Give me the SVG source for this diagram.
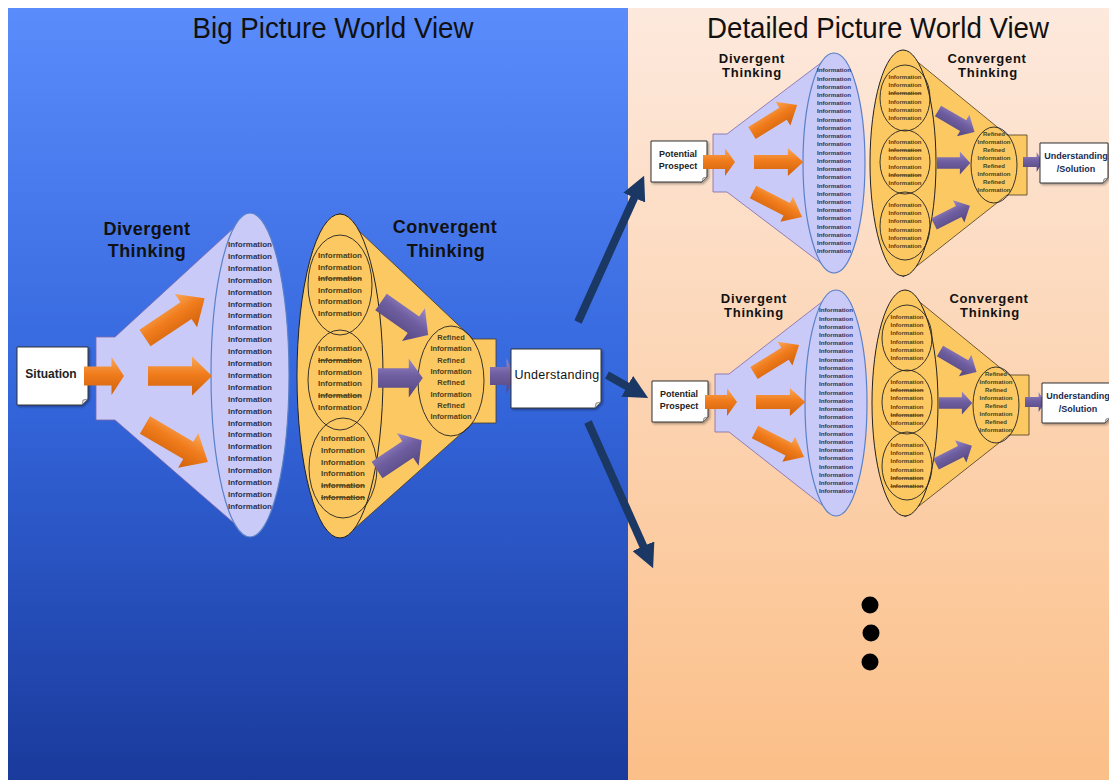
<svg xmlns="http://www.w3.org/2000/svg" xmlns:xlink="http://www.w3.org/1999/xlink" width="1109" height="780" viewBox="0 0 1109 780">
<style>
text{font-family:'Liberation Sans',Arial,sans-serif;text-anchor:middle}
.title{font-size:29px;fill:#111}
.lblB{font-size:18px;font-weight:bold;fill:#111;letter-spacing:0.45px}
.lblS{font-size:13px;font-weight:bold;fill:#111;letter-spacing:0.7px}
.inD{font-weight:bold;fill:#2b3152}
.inC{font-weight:bold;fill:#4a3f1a}
.st{text-decoration:line-through}
.paper{fill:#fff;stroke:#333;stroke-width:1}
.fold{fill:#ddd;stroke:#555;stroke-width:0.6}
.dfun{fill:#c9caf7;stroke:#7f68aa;stroke-width:0.8}
.dell{fill:#c9caf7;stroke:#5a80c8;stroke-width:1.2}
.cfun{fill:#fcc862;stroke:#4a3a20;stroke-width:0.8}
.cell{fill:#fcc862;stroke:#222;stroke-width:1}
.iell{fill:none;stroke:#222;stroke-width:0.9}
.conn{stroke:#1b3864;stroke-width:8;fill:none;marker-end:url(#nav)}
</style>
<defs>
<linearGradient id="bgL" x1="0" y1="0" x2="0" y2="1"><stop offset="0" stop-color="#5a8cfc"/><stop offset="0.5" stop-color="#3466dc"/><stop offset="1" stop-color="#1a3a9c"/></linearGradient>
<linearGradient id="bgR" x1="0" y1="0" x2="0" y2="1"><stop offset="0" stop-color="#fde9dd"/><stop offset="1" stop-color="#fbbf88"/></linearGradient>
<linearGradient id="og" x1="0" y1="0" x2="0" y2="1"><stop offset="0" stop-color="#f9a85a"/><stop offset="0.45" stop-color="#f07c1c"/><stop offset="1" stop-color="#d0600a"/></linearGradient>
<linearGradient id="pg" x1="0" y1="0" x2="0" y2="1"><stop offset="0" stop-color="#9a8ac8"/><stop offset="0.45" stop-color="#6e5ea0"/><stop offset="1" stop-color="#54467e"/></linearGradient>
<path id="ba" d="M0,-10 H44 V-20 L64,0 L44,20 V10 H0 Z"/>
<marker id="nav" viewBox="0 0 10 10" refX="2" refY="5" markerWidth="3" markerHeight="3" orient="auto" markerUnits="strokeWidth"><path d="M0,0 L10,5 L0,10 Z" fill="#1b3864"/></marker>
<filter id="sh" x="-10%" y="-10%" width="130%" height="130%"><feDropShadow dx="1.5" dy="1.5" stdDeviation="1" flood-opacity="0.35"/></filter>
</defs>

<g id="background">
<rect x="0" y="0" width="1109" height="780" fill="#fff"/>
<rect x="8" y="8" width="620" height="772" fill="url(#bgL)"/>
<rect x="628" y="8" width="481" height="772" fill="url(#bgR)"/>
</g>

<g id="title-big"><text class="title" x="333" y="38" textLength="281" lengthAdjust="spacingAndGlyphs">Big Picture World View</text></g>
<g id="title-detailed"><text class="title" x="878" y="38" textLength="342" lengthAdjust="spacingAndGlyphs">Detailed Picture World View</text></g>

<!-- Big picture -->
<g id="divergent-big">
<polygon class="dfun" points="96,337 115,337 250,213 250,537 115,420 96,420"/>
<ellipse class="dell" cx="250" cy="375" rx="39" ry="162"/>
<text class="inD" x="250" y="247" font-size="8"><tspan x="250">Information</tspan><tspan x="250" dy="11.9">Information</tspan><tspan x="250" dy="11.9">Information</tspan><tspan x="250" dy="11.9">Information</tspan><tspan x="250" dy="11.9">Information</tspan><tspan x="250" dy="11.9">Information</tspan><tspan x="250" dy="11.9">Information</tspan><tspan x="250" dy="11.9">Information</tspan><tspan x="250" dy="11.9">Information</tspan><tspan x="250" dy="11.9">Information</tspan><tspan x="250" dy="11.9">Information</tspan><tspan x="250" dy="11.9">Information</tspan><tspan x="250" dy="11.9">Information</tspan><tspan x="250" dy="11.9">Information</tspan><tspan x="250" dy="11.9">Information</tspan><tspan x="250" dy="11.9">Information</tspan><tspan x="250" dy="11.9">Information</tspan><tspan x="250" dy="11.9">Information</tspan><tspan x="250" dy="11.9">Information</tspan><tspan x="250" dy="11.9">Information</tspan><tspan x="250" dy="11.9">Information</tspan><tspan x="250" dy="11.9">Information</tspan><tspan x="250" dy="11.9">Information</tspan></text>
<use href="#ba" fill="url(#og)" transform="translate(148,376) scale(1,0.97)"/>
<use href="#ba" fill="url(#og)" transform="translate(145,338) rotate(-33.7) scale(1.12,1)"/>
<use href="#ba" fill="url(#og)" transform="translate(145,425) rotate(30.4) scale(1.14,1)"/>
<text class="lblB" x="147" y="235">Divergent</text>
<text class="lblB" x="147" y="257">Thinking</text>
</g>

<g id="convergent-big">
<polygon class="cfun" points="340,213 473,339 496,339 496,423 473,423 345,537"/>
<ellipse class="cell" cx="340" cy="376" rx="43" ry="162"/>
<ellipse class="iell" cx="340" cy="285" rx="32" ry="50"/>
<ellipse class="iell" cx="340" cy="380" rx="32" ry="50"/>
<ellipse class="iell" cx="343" cy="468" rx="34" ry="50"/>
<ellipse class="iell" cx="451" cy="381" rx="33" ry="55"/>
<text class="inC" x="340" y="258" font-size="8"><tspan x="340">Information</tspan><tspan x="340" dy="11.6">Information</tspan><tspan x="340" dy="11.6" class="st">Information</tspan><tspan x="340" dy="11.6">Information</tspan><tspan x="340" dy="11.6">Information</tspan><tspan x="340" dy="11.6">Information</tspan></text>
<text class="inC" x="340" y="351" font-size="8"><tspan x="340">Information</tspan><tspan x="340" dy="11.8" class="st">Information</tspan><tspan x="340" dy="11.8">Information</tspan><tspan x="340" dy="11.8">Information</tspan><tspan x="340" dy="11.8" class="st">Information</tspan><tspan x="340" dy="11.8">Information</tspan></text>
<text class="inC" x="343" y="441" font-size="8"><tspan x="343">Information</tspan><tspan x="343" dy="11.8">Information</tspan><tspan x="343" dy="11.8">Information</tspan><tspan x="343" dy="11.8">Information</tspan><tspan x="343" dy="11.8" class="st">Information</tspan><tspan x="343" dy="11.8" class="st">Information</tspan></text>
<text class="inC" x="451" y="340" font-size="7.5"><tspan x="451">Refined</tspan><tspan x="451" dy="11.3">Information</tspan><tspan x="451" dy="11.3">Refined</tspan><tspan x="451" dy="11.3">Information</tspan><tspan x="451" dy="11.3">Refined</tspan><tspan x="451" dy="11.3">Information</tspan><tspan x="451" dy="11.3">Refined</tspan><tspan x="451" dy="11.3">Information</tspan></text>
<use href="#ba" fill="url(#pg)" transform="translate(381,302) rotate(35) scale(0.9,1)"/>
<use href="#ba" fill="url(#pg)" transform="translate(378,378) scale(0.7,0.98)"/>
<use href="#ba" fill="url(#pg)" transform="translate(377,470) rotate(-33.7) scale(0.84,0.98)"/>
<use href="#ba" fill="url(#pg)" transform="translate(490,376) scale(0.375,0.9)"/>
<text class="lblB" x="445" y="233">Convergent</text>
<text class="lblB" x="446" y="257">Thinking</text>
</g>

<g id="situation">
<path class="paper" filter="url(#sh)" d="M17,347 H88 V399 L82,405 H17 Z"/>
<path class="fold" d="M82,405 L83,400 L88,399 Z"/>
<text x="51" y="378" font-size="12" font-weight="bold" fill="#222">Situation</text>
<use href="#ba" fill="url(#og)" transform="translate(84,376) scale(0.625,0.95)"/>
</g>

<g id="understanding">
<path class="paper" filter="url(#sh)" d="M511,349 H601 V402 L595,408 H511 Z"/>
<path class="fold" d="M595,408 L596,403 L601,402 Z"/>
<text x="557" y="379" font-size="12.5" fill="#111" letter-spacing="0.3">Understanding</text>
</g>

<g id="connectors">
<line class="conn" x1="578" y1="322" x2="636.2" y2="193.3"/>
<line class="conn" x1="607" y1="375" x2="631.4" y2="388.7"/>
<line class="conn" x1="588" y1="422" x2="645.3" y2="550.6"/>
</g>

<!-- Detailed top -->
<g id="divergent-1">
<polygon class="dfun" points="713,134 727,134 834,53 834,273 727,192 713,192"/>
<ellipse class="dell" cx="834" cy="163" rx="31" ry="110"/>
<text class="inD" x="834" y="72.3" font-size="6.2"><tspan x="834">Information</tspan><tspan x="834" dy="8.23">Information</tspan><tspan x="834" dy="8.23">Information</tspan><tspan x="834" dy="8.23">Information</tspan><tspan x="834" dy="8.23">Information</tspan><tspan x="834" dy="8.23">Information</tspan><tspan x="834" dy="8.23">Information</tspan><tspan x="834" dy="8.23">Information</tspan><tspan x="834" dy="8.23">Information</tspan><tspan x="834" dy="8.23">Information</tspan><tspan x="834" dy="8.23">Information</tspan><tspan x="834" dy="8.23">Information</tspan><tspan x="834" dy="8.23">Information</tspan><tspan x="834" dy="8.23">Information</tspan><tspan x="834" dy="8.23">Information</tspan><tspan x="834" dy="8.23">Information</tspan><tspan x="834" dy="8.23">Information</tspan><tspan x="834" dy="8.23">Information</tspan><tspan x="834" dy="8.23">Information</tspan><tspan x="834" dy="8.23">Information</tspan><tspan x="834" dy="8.23">Information</tspan><tspan x="834" dy="8.23">Information</tspan><tspan x="834" dy="8.23">Information</tspan></text>
<use href="#ba" fill="url(#og)" transform="translate(754,162) scale(0.77,0.7)"/>
<use href="#ba" fill="url(#og)" transform="translate(752,133) rotate(-31.9) scale(0.83,0.7)"/>
<use href="#ba" fill="url(#og)" transform="translate(753,192) rotate(27) scale(0.86,0.7)"/>
<text class="lblS" x="752" y="63">Divergent</text>
<text class="lblS" x="752" y="77">Thinking</text>
</g>

<g id="prospect-1">
<path class="paper" filter="url(#sh)" d="M651,141 H707 V177 L702,182 H651 Z"/>
<path class="fold" d="M702,182 L703,178 L707,177 Z"/>
<text x="678" y="157" font-size="9" font-weight="bold" fill="#222">Potential</text>
<text x="678" y="169" font-size="9" font-weight="bold" fill="#222">Prospect</text>
<use href="#ba" fill="url(#og)" transform="translate(703,162) scale(0.5,0.7)"/>
</g>

<g id="convergent-1">
<polygon class="cfun" points="903,50 1007,135 1027,135 1027,195 1007,195 903,277"/>
<ellipse class="cell" cx="903" cy="163" rx="33" ry="113"/>
<ellipse class="iell" cx="905" cy="98" rx="25" ry="33"/>
<ellipse class="iell" cx="905" cy="162" rx="25" ry="32"/>
<ellipse class="iell" cx="905" cy="226" rx="25" ry="34"/>
<ellipse class="iell" cx="994" cy="165" rx="23" ry="38"/>
<text class="inC" x="905" y="79" font-size="6"><tspan x="905">Information</tspan><tspan x="905" dy="8.2">Information</tspan><tspan x="905" dy="8.2" class="st">Information</tspan><tspan x="905" dy="8.2">Information</tspan><tspan x="905" dy="8.2">Information</tspan><tspan x="905" dy="8.2">Information</tspan></text>
<text class="inC" x="905" y="144" font-size="6"><tspan x="905">Information</tspan><tspan x="905" dy="8.2" class="st">Information</tspan><tspan x="905" dy="8.2">Information</tspan><tspan x="905" dy="8.2">Information</tspan><tspan x="905" dy="8.2" class="st">Information</tspan><tspan x="905" dy="8.2">Information</tspan></text>
<text class="inC" x="905" y="207" font-size="6"><tspan x="905">Information</tspan><tspan x="905" dy="8.2">Information</tspan><tspan x="905" dy="8.2">Information</tspan><tspan x="905" dy="8.2">Information</tspan><tspan x="905" dy="8.2">Information</tspan><tspan x="905" dy="8.2">Information</tspan></text>
<text class="inC" x="994" y="136" font-size="6"><tspan x="994">Refined</tspan><tspan x="994" dy="8">Information</tspan><tspan x="994" dy="8">Refined</tspan><tspan x="994" dy="8">Information</tspan><tspan x="994" dy="8">Refined</tspan><tspan x="994" dy="8">Information</tspan><tspan x="994" dy="8">Refined</tspan><tspan x="994" dy="8">Information</tspan></text>
<use href="#ba" fill="url(#pg)" transform="translate(938,111) rotate(30) scale(0.66,0.62)"/>
<use href="#ba" fill="url(#pg)" transform="translate(937,163) scale(0.52,0.58)"/>
<use href="#ba" fill="url(#pg)" transform="translate(934,224) rotate(-27) scale(0.63,0.62)"/>
<use href="#ba" fill="url(#pg)" transform="translate(1023,162) scale(0.31,0.5)"/>
<text class="lblS" x="987" y="63">Convergent</text>
<text class="lblS" x="988" y="77">Thinking</text>
</g>

<g id="solution-1">
<path class="paper" filter="url(#sh)" d="M1040,143 H1108 V178 L1103,183 H1040 Z"/>
<path class="fold" d="M1103,183 L1104,179 L1108,178 Z"/>
<text x="1076" y="159" font-size="9" font-weight="bold" fill="#1a2a50">Understanding</text>
<text x="1076" y="172" font-size="9" font-weight="bold" fill="#1a2a50">/Solution</text>
</g>

<!-- Detailed bottom -->
<g id="divergent-2" transform="translate(2,240)">
<polygon class="dfun" points="713,134 727,134 834,51 834,276 727,192 713,192"/>
<ellipse class="dell" cx="834" cy="163" rx="31" ry="113"/>
<text class="inD" x="834" y="72.3" font-size="6.2"><tspan x="834">Information</tspan><tspan x="834" dy="8.23">Information</tspan><tspan x="834" dy="8.23">Information</tspan><tspan x="834" dy="8.23">Information</tspan><tspan x="834" dy="8.23">Information</tspan><tspan x="834" dy="8.23">Information</tspan><tspan x="834" dy="8.23">Information</tspan><tspan x="834" dy="8.23">Information</tspan><tspan x="834" dy="8.23">Information</tspan><tspan x="834" dy="8.23">Information</tspan><tspan x="834" dy="8.23">Information</tspan><tspan x="834" dy="8.23">Information</tspan><tspan x="834" dy="8.23">Information</tspan><tspan x="834" dy="8.23">Information</tspan><tspan x="834" dy="8.23">Information</tspan><tspan x="834" dy="8.23">Information</tspan><tspan x="834" dy="8.23">Information</tspan><tspan x="834" dy="8.23">Information</tspan><tspan x="834" dy="8.23">Information</tspan><tspan x="834" dy="8.23">Information</tspan><tspan x="834" dy="8.23">Information</tspan><tspan x="834" dy="8.23">Information</tspan><tspan x="834" dy="8.23">Information</tspan></text>
<use href="#ba" fill="url(#og)" transform="translate(754,162) scale(0.77,0.7)"/>
<use href="#ba" fill="url(#og)" transform="translate(752,133) rotate(-31.9) scale(0.83,0.7)"/>
<use href="#ba" fill="url(#og)" transform="translate(753,192) rotate(27) scale(0.86,0.7)"/>
<text class="lblS" x="752" y="63">Divergent</text>
<text class="lblS" x="752" y="77">Thinking</text>
</g>

<g id="prospect-2" transform="translate(1,240)">
<path class="paper" filter="url(#sh)" d="M651,141 H707 V177 L702,182 H651 Z"/>
<path class="fold" d="M702,182 L703,178 L707,177 Z"/>
<text x="678" y="157" font-size="9" font-weight="bold" fill="#222">Potential</text>
<text x="678" y="169" font-size="9" font-weight="bold" fill="#222">Prospect</text>
<use href="#ba" fill="url(#og)" transform="translate(704,162) scale(0.5,0.7)"/>
</g>

<g id="convergent-2" transform="translate(2,240)">
<polygon class="cfun" points="903,50 1007,135 1027,135 1027,195 1007,195 903,277"/>
<ellipse class="cell" cx="903" cy="163" rx="33" ry="113"/>
<ellipse class="iell" cx="905" cy="98" rx="25" ry="33"/>
<ellipse class="iell" cx="905" cy="162" rx="25" ry="32"/>
<ellipse class="iell" cx="905" cy="226" rx="25" ry="34"/>
<ellipse class="iell" cx="994" cy="165" rx="23" ry="38"/>
<text class="inC" x="905" y="79" font-size="6"><tspan x="905">Information</tspan><tspan x="905" dy="8.2">Information</tspan><tspan x="905" dy="8.2">Information</tspan><tspan x="905" dy="8.2">Information</tspan><tspan x="905" dy="8.2">Information</tspan><tspan x="905" dy="8.2">Information</tspan></text>
<text class="inC" x="905" y="144" font-size="6"><tspan x="905">Information</tspan><tspan x="905" dy="8.2" class="st">Information</tspan><tspan x="905" dy="8.2">Information</tspan><tspan x="905" dy="8.2">Information</tspan><tspan x="905" dy="8.2" class="st">Information</tspan><tspan x="905" dy="8.2">Information</tspan></text>
<text class="inC" x="905" y="207" font-size="6"><tspan x="905">Information</tspan><tspan x="905" dy="8.2">Information</tspan><tspan x="905" dy="8.2">Information</tspan><tspan x="905" dy="8.2">Information</tspan><tspan x="905" dy="8.2" class="st">Information</tspan><tspan x="905" dy="8.2" class="st">Information</tspan></text>
<text class="inC" x="994" y="136" font-size="6"><tspan x="994">Refined</tspan><tspan x="994" dy="8">Information</tspan><tspan x="994" dy="8">Refined</tspan><tspan x="994" dy="8">Information</tspan><tspan x="994" dy="8">Refined</tspan><tspan x="994" dy="8">Information</tspan><tspan x="994" dy="8">Refined</tspan><tspan x="994" dy="8">Information</tspan></text>
<use href="#ba" fill="url(#pg)" transform="translate(938,111) rotate(30) scale(0.66,0.62)"/>
<use href="#ba" fill="url(#pg)" transform="translate(937,163) scale(0.52,0.58)"/>
<use href="#ba" fill="url(#pg)" transform="translate(934,224) rotate(-27) scale(0.63,0.62)"/>
<use href="#ba" fill="url(#pg)" transform="translate(1023,162) scale(0.31,0.5)"/>
<text class="lblS" x="987" y="63">Convergent</text>
<text class="lblS" x="988" y="77">Thinking</text>
</g>

<g id="solution-2" transform="translate(2,240)">
<path class="paper" filter="url(#sh)" d="M1040,143 H1108 V178 L1103,183 H1040 Z"/>
<path class="fold" d="M1103,183 L1104,179 L1108,178 Z"/>
<text x="1076" y="159" font-size="9" font-weight="bold" fill="#1a2a50">Understanding</text>
<text x="1076" y="172" font-size="9" font-weight="bold" fill="#1a2a50">/Solution</text>
</g>

<g id="ellipsis-dots" fill="#000">
<circle cx="870" cy="605" r="8.5"/>
<circle cx="871" cy="633" r="8.5"/>
<circle cx="870" cy="662" r="8.5"/>
</g>
</svg>
